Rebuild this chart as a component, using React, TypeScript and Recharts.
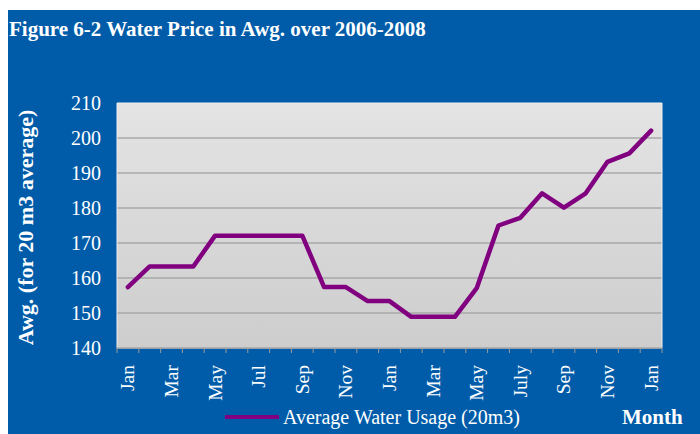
import { LineChart, Line, XAxis, YAxis, CartesianGrid, ReferenceArea } from "recharts";

const months = [
  "Jan", "Feb", "Mar", "Apr", "May", "Jun", "Jul", "Aug", "Sep", "Oct", "Nov", "Dec",
  "Jan", "Feb", "Mar", "Apr", "May", "Jun", "July", "Aug", "Sep", "Oct", "Nov", "Dec",
  "Jan",
];
const waterUsage = [
  157.4, 163.3, 163.3, 163.3, 172.1, 172.1, 172.1, 172.1, 172.1, 157.4, 157.4, 153.4,
  153.4, 148.9, 148.9, 148.9, 157.1, 175.0, 177.2, 184.2, 180.1, 184.2, 193.2, 195.6,
  202.1,
];
const yTicks = [140, 150, 160, 170, 180, 190, 200, 210];
const gridValues = [150, 160, 170, 180, 190, 200];

const data = months.map((m, i) => ({ idx: i, month: m, usage: waterUsage[i] }));
// tick marks sit between categories, like the original spreadsheet chart
const markTicks = [...months.map((_, i) => i - 0.5), months.length - 0.5];

const BLUE = "#005CA9";
const FONT = "'Liberation Serif', 'Times New Roman', serif";

const CHART_W = 692;
const CHART_H = 424;
const Y_W = 109;
const M_RIGHT = 38;
const HALF_BAND = (CHART_W - Y_W - M_RIGHT) / months.length / 2;

function MonthTick(props: any) {
  const { x, y, payload } = props;
  const i = Math.round(payload.value + 0.5);
  if (i >= months.length || i % 2 !== 0) return <g />;
  const tx = x + HALF_BAND;
  const ty = y + 12;
  return (
    <text
      x={tx}
      y={ty}
      transform={`rotate(-90, ${tx}, ${ty})`}
      textAnchor="end"
      dominantBaseline="central"
      fill="#fff"
      fontSize={19.5}
      fontFamily={FONT}
    >
      {months[i]}
    </text>
  );
}

export default function App() {
  return (
    <div
      style={{
        position: "fixed",
        top: 10,
        left: 8,
        width: CHART_W,
        height: CHART_H,
        background: BLUE,
        fontFamily: FONT,
        color: "#fff",
        overflow: "hidden",
      }}
    >
      <div style={{ position: "absolute", left: 1, top: 8, fontSize: 21, lineHeight: "22px", fontWeight: "bold", whiteSpace: "nowrap" }}>
        Figure 6-2 Water Price in Awg. over 2006-2008
      </div>

      <LineChart width={CHART_W} height={CHART_H} data={data} margin={{ top: 93, right: M_RIGHT, left: 0, bottom: 20 }}>
        <defs>
          <linearGradient id="plotBg" x1="0" y1="0" x2="0" y2="1">
            <stop offset="0%" stopColor="#e4e4e4" />
            <stop offset="100%" stopColor="#cdcdcd" />
          </linearGradient>
        </defs>
        <CartesianGrid
          vertical={false}
          horizontalValues={gridValues}
          stroke="#a8a8a8"
          strokeWidth={1.5}
          fill="url(#plotBg)"
          fillOpacity={1}
        />
        <ReferenceArea y1={140} y2={210} fill="none" stroke="#eeeeee" strokeWidth={1} ifOverflow="visible" />
        <XAxis
          dataKey="idx"
          type="number"
          domain={[-0.5, months.length - 0.5]}
          ticks={markTicks}
          interval={0}
          tick={<MonthTick />}
          tickSize={5}
          tickMargin={0}
          height={66}
          axisLine={{ stroke: "#a0a0a0", strokeWidth: 1.5 }}
          tickLine={{ stroke: "#9a9a9a" }}
        />
        <YAxis
          domain={[140, 210]}
          ticks={yTicks}
          width={Y_W}
          axisLine={false}
          tickLine={false}
          tickSize={0}
          tickMargin={16}
          tick={{ fill: "#fff", fontSize: 20, fontFamily: FONT }}
          label={{
            content: ({ viewBox }: any) => {
              const cx = viewBox.x + 17;
              const cy = viewBox.y + viewBox.height / 2 + 2;
              return (
                <text
                  x={cx}
                  y={cy}
                  transform={`rotate(-90, ${cx}, ${cy})`}
                  textAnchor="middle"
                  dominantBaseline="central"
                  fill="#fff"
                  fontSize={22}
                  fontWeight="bold"
                  fontFamily={FONT}
                >
                  Awg. (for 20 m3 average)
                </text>
              );
            },
          }}
        />
        <Line
          type="linear"
          dataKey="usage"
          stroke="#800080"
          strokeWidth={4.5}
          strokeLinecap="round"
          strokeLinejoin="round"
          dot={false}
          activeDot={false}
          isAnimationActive={false}
        />
      </LineChart>

      <div style={{ position: "absolute", left: 217, top: 405, width: 54, height: 4, background: "#800080" }} />
      <div style={{ position: "absolute", left: 275, top: 396, fontSize: 20, lineHeight: "22px", whiteSpace: "nowrap" }}>
        Average Water Usage (20m3)
      </div>
      <div style={{ position: "absolute", left: 614, top: 396, fontSize: 21, lineHeight: "22px", fontWeight: "bold", whiteSpace: "nowrap" }}>
        Month
      </div>
    </div>
  );
}
